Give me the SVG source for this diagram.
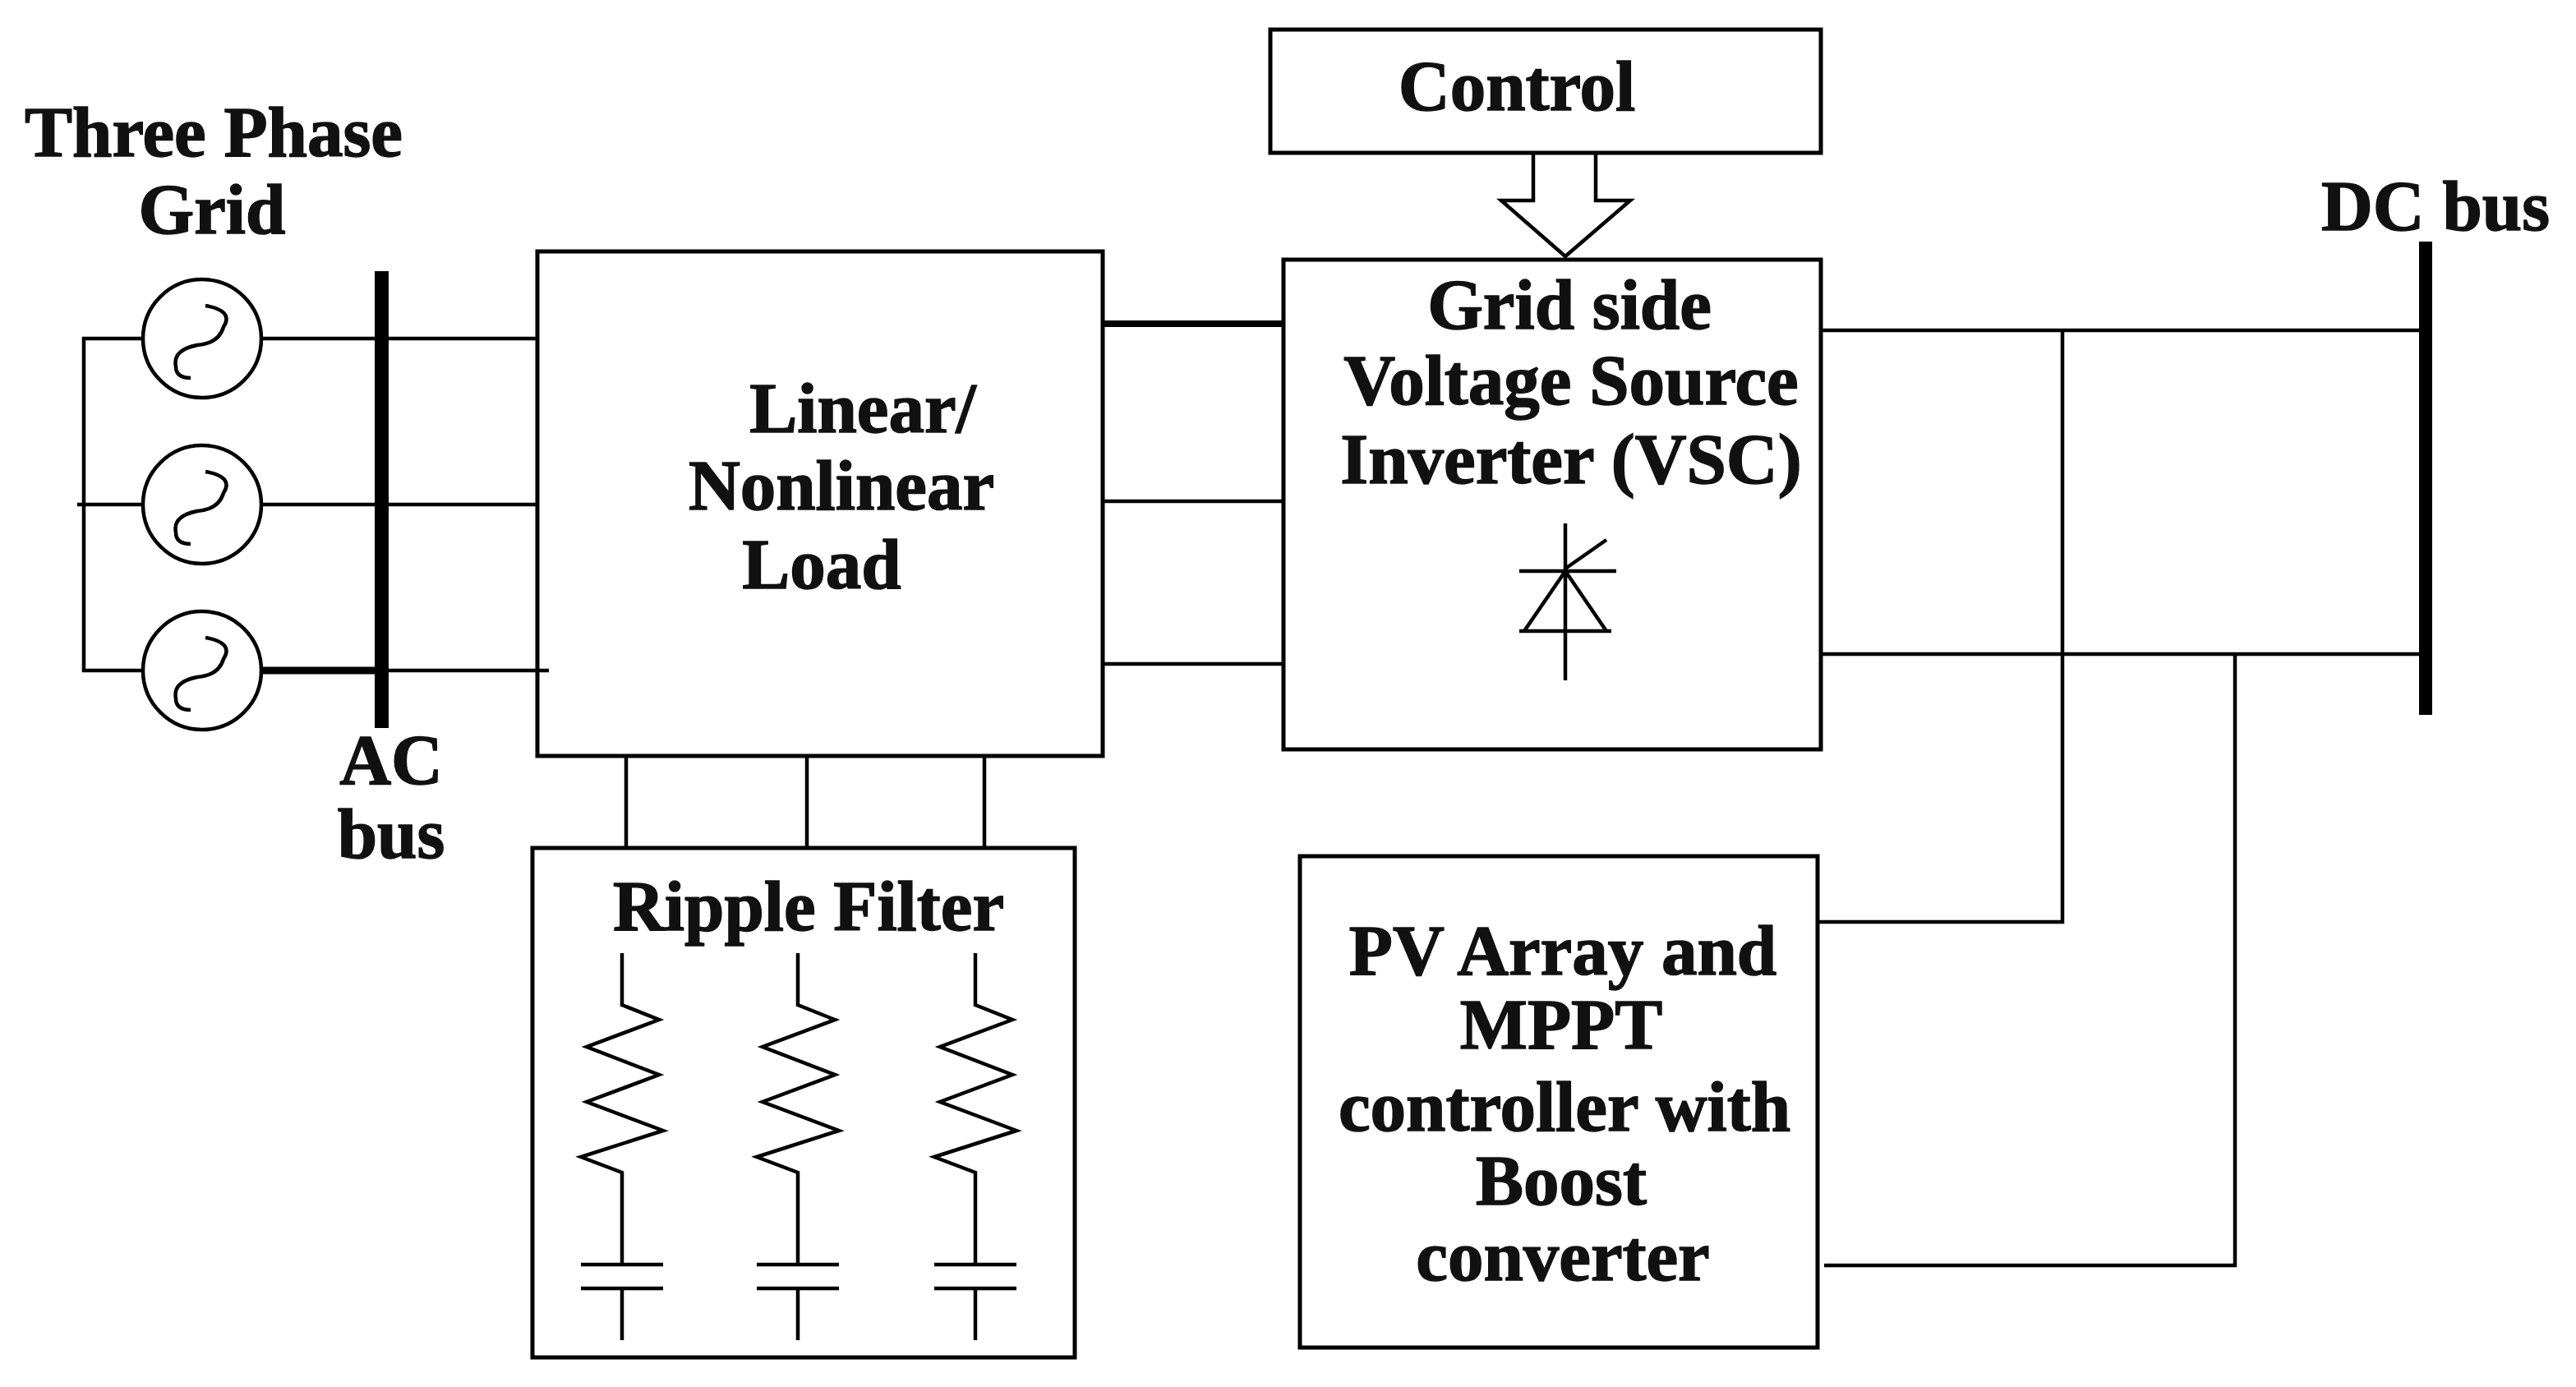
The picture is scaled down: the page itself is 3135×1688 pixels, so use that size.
<svg xmlns="http://www.w3.org/2000/svg" width="3135" height="1688" viewBox="0 0 3135 1688">
<style>
.l{stroke:#000;stroke-width:4.5;fill:none}
.b{stroke:#000;stroke-width:5;fill:#fff}
.t{font-family:"Liberation Serif",serif;font-weight:bold;font-size:87px;fill:#111;stroke:#111;stroke-width:1.5;text-anchor:middle}
</style>
<rect width="3135" height="1688" fill="#fff"/>
<g id="grid">
<text class="t" x="260" y="190">Three Phase</text>
<text class="t" x="258" y="284" font-size="84">Grid</text>
<circle class="l" cx="246" cy="412" r="72"/><circle class="l" cx="246" cy="614" r="72"/><circle class="l" cx="246" cy="816" r="72"/>
<path class="l" d="M250 372 Q285 378 272 398 Q266 418 240 420 Q210 426 214 446 Q214 460 232 460"/>
<path class="l" d="M250 574 Q285 580 272 600 Q266 620 240 622 Q210 628 214 648 Q214 662 232 662"/>
<path class="l" d="M250 776 Q285 782 272 802 Q266 822 240 824 Q210 830 214 850 Q214 864 232 864"/>
</g>
<g id="acbus">
<rect x="456" y="330" width="17" height="556" fill="#000"/>
<text class="t" x="476" y="954">AC</text>
<text class="t" x="476" y="1044">bus</text>
</g>
<g id="load">
<rect class="b" x="654" y="306" width="688" height="614"/>
<text class="t" x="1050" y="526">Linear/</text>
<text class="t" x="1024" y="620">Nonlinear</text>
<text class="t" x="1000" y="716">Load</text>
</g>
<g id="control">
<rect class="b" x="1546" y="36" width="670" height="150"/>
<text class="t" x="1846" y="134">Control</text>
</g>
<g id="vsc">
<rect class="b" x="1562" y="316" width="654" height="596"/>
<text class="t" x="1910" y="400">Grid side</text>
<text class="t" x="1912" y="492">Voltage Source</text>
<text class="t" x="1912" y="588">Inverter (VSC)</text>
<path class="l" d="M1905 637V828M1849 695H1967M1849 768H1961M1905 695L1855 768M1905 695L1955 768M1905 692L1955 657"/>
</g>
<g id="dcbus">
<rect x="2944" y="294" width="16" height="576" fill="#000"/>
<text class="t" x="2964" y="280">DC bus</text>
</g>
<g id="pv">
<rect class="b" x="1582" y="1042" width="630" height="598"/>
<text class="t" x="1902" y="1186">PV Array and</text>
<text class="t" x="1900" y="1276">MPPT</text>
<text class="t" x="1904" y="1376">controller with</text>
<text class="t" x="1900" y="1466">Boost</text>
<text class="t" x="1902" y="1558">converter</text>
</g>
<g id="ripple">
<rect class="b" x="648" y="1032" width="660" height="620"/>
<text class="t" x="984" y="1132">Ripple Filter</text>
<g id="rc1" transform="translate(757,0)"><path class="l" d="M0 1160V1223L45 1241L-43 1274L45 1308L-43 1341L50 1376L-50 1408L0 1427V1539M-50 1539H50M-50 1568H50M0 1568V1631"/></g>
<g id="rc2" transform="translate(971,0)"><path class="l" d="M0 1160V1223L45 1241L-43 1274L45 1308L-43 1341L50 1376L-50 1408L0 1427V1539M-50 1539H50M-50 1568H50M0 1568V1631"/></g>
<g id="rc3" transform="translate(1187,0)"><path class="l" d="M0 1160V1223L45 1241L-43 1274L45 1308L-43 1341L50 1376L-50 1408L0 1427V1539M-50 1539H50M-50 1568H50M0 1568V1631"/></g>
</g>
<g id="connectors">
<path class="l" d="M174 412H102V816H174M94 614H174M318 412H654M318 614H654M318 816H668"/>
<path stroke="#000" stroke-width="9" d="M318 816H464"/>
<path stroke="#000" stroke-width="8" d="M1342 394H1562"/>
<path class="l" d="M1342 610H1562M1342 808H1562"/>
<path class="l" d="M762 920V1032M982 920V1032M1198 920V1032"/>
<path class="l" fill="#fff" d="M1866 186V244H1827L1905 312L1984 244H1942V186"/>
<path class="l" d="M2216 402H2944M2216 796H2944M2510 402V1122H2212M2720 796V1540H2220"/>
</g>
</svg>
